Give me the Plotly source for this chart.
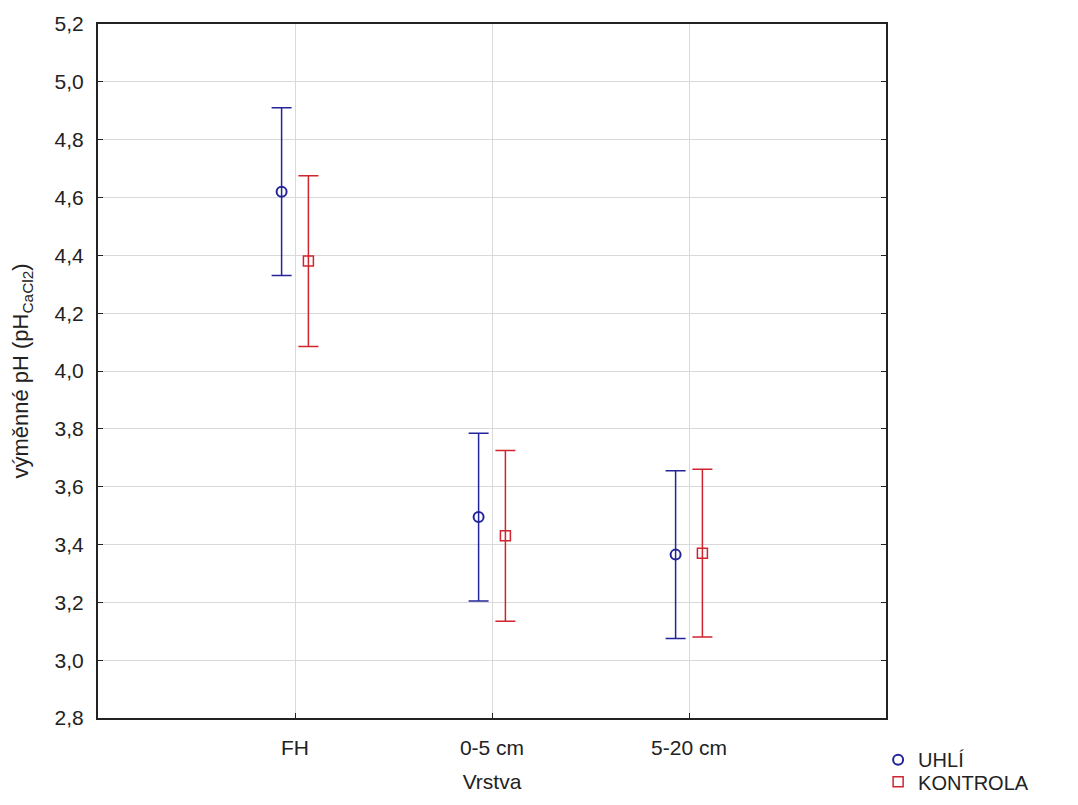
import plotly.graph_objects as go

categories = ["FH", "0-5 cm", "5-20 cm"]
uhli_mean = [4.62, 3.495, 3.365]
uhli_err = [0.29, 0.29, 0.29]
kontrola_mean = [4.38, 3.43, 3.37]
kontrola_err = [0.295, 0.295, 0.29]
y_ticks = [2.8, 3.0, 3.2, 3.4, 3.6, 3.8, 4.0, 4.2, 4.4, 4.6, 4.8, 5.0, 5.2]

idx = list(range(len(categories)))
off = 0.068
FONT = "Liberation Sans, Arial, sans-serif"
BLUE = "#24249a"
RED = "#d0242e"
TXT = "#222222"

fig = go.Figure()
fig.add_trace(go.Scatter(
    x=[i - off for i in idx], y=uhli_mean, name="UHLÍ", mode="markers",
    marker=dict(symbol="circle-open", size=10, color=BLUE, line=dict(width=2, color=BLUE)),
    error_y=dict(type="data", array=uhli_err, visible=True, color=BLUE, thickness=1.5, width=10),
    legend="legend",
))
fig.add_trace(go.Scatter(
    x=[i + off for i in idx], y=kontrola_mean, name="KONTROLA", mode="markers",
    marker=dict(symbol="square-open", size=10, color=RED, line=dict(width=1.5, color=RED)),
    error_y=dict(type="data", array=kontrola_err, visible=True, color=RED, thickness=1.5, width=10),
    legend="legend2",
))

leg_common = dict(xanchor="left", yanchor="middle",
                  font=dict(family=FONT, size=20, color=TXT), tracegroupgap=0,
                  itemwidth=30, bgcolor="rgba(0,0,0,0)")

fig.update_layout(
    width=1078, height=805,
    margin=dict(l=90, r=200, t=16, b=85),
    paper_bgcolor="white", plot_bgcolor="white",
    separators=", ",
    font=dict(family=FONT, size=21, color=TXT),
    showlegend=True,
    legend=dict(x=0.99, y=-0.06, **leg_common),
    legend2=dict(x=0.99, y=-0.092, **leg_common),
)
fig.update_xaxes(
    range=[-1, 3], tickmode="array", tickvals=idx, ticktext=categories,
    showgrid=True, gridcolor="#d9d9d9", gridwidth=1, zeroline=False,
    showline=True, linecolor=TXT, linewidth=2, mirror=True,
    ticks="inside", ticklen=5, tickcolor=TXT, ticklabelstandoff=10,
    tickfont=dict(family=FONT, size=21, color=TXT),
    automargin=False,
    title=dict(text="Vrstva", standoff=16, font=dict(family=FONT, size=21, color=TXT)),
)
fig.update_yaxes(
    range=[2.8, 5.2], tickmode="array", tickvals=y_ticks, tickformat=".1f",
    showgrid=True, gridcolor="#d9d9d9", gridwidth=1, zeroline=False,
    showline=True, linecolor=TXT, linewidth=2, mirror="allticks",
    ticks="inside", ticklen=5, tickcolor=TXT, ticklabelstandoff=8,
    tickfont=dict(family=FONT, size=21, color=TXT),
    automargin=False,
    title=dict(text="výměnné pH (pH<sub>CaCl2</sub>)", standoff=20,
               font=dict(family=FONT, size=22, color=TXT)),
)

fig.write_html("out.html")
